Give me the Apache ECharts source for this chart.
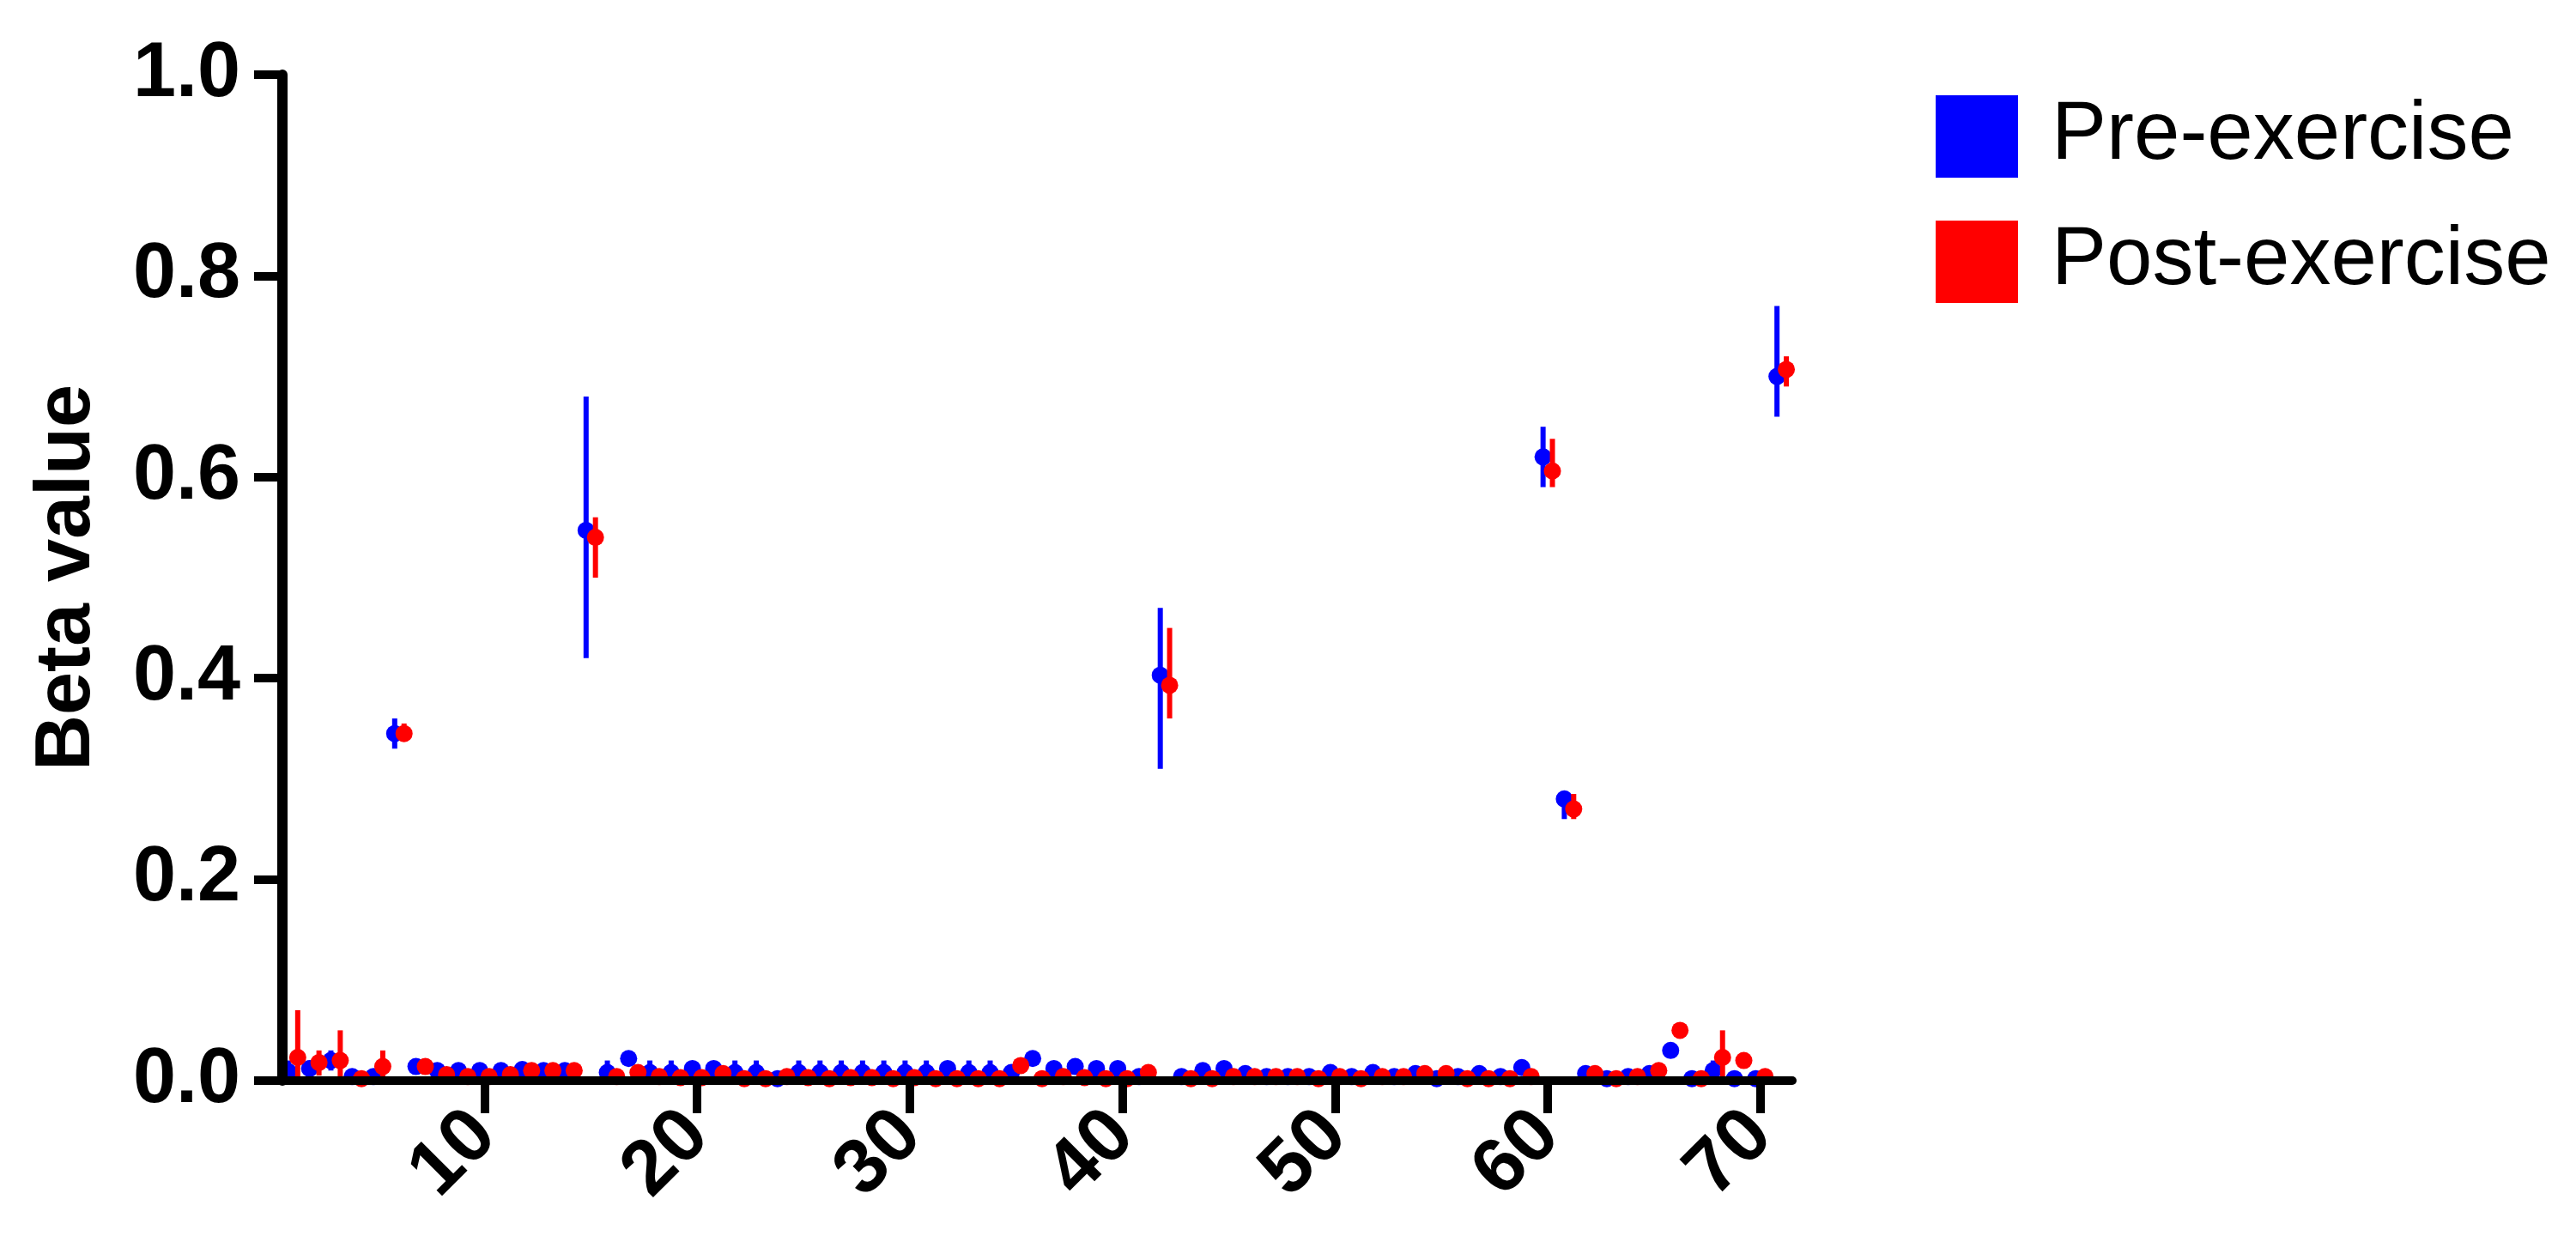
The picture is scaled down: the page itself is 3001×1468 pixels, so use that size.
<!DOCTYPE html>
<html><head><meta charset="utf-8">
<script src="https://cdn.jsdelivr.net/npm/echarts@6/dist/echarts.min.js"></script>
<style>html,body{margin:0;padding:0;background:#fff}#c{width:3001px;height:1468px}</style>
</head><body><div id="c"></div>
<script>
// CpG site index (x positions)
const sites = [1,2,3,4,5,6,7,8,9,10,11,12,13,14,15,16,17,18,19,20,21,22,23,24,25,26,27,28,29,30,31,32,33,34,35,36,37,38,39,40,41,42,43,44,45,46,47,48,49,50,51,52,53,54,55,56,57,58,59,60,61,62,63,64,65,66,67,68,69,70,71];
const xTicks = [10,20,30,40,50,60,70];
const yTicks = [0,0.2,0.4,0.6,0.8,1.0];

const preMean = [0.009,0.012,0.02,0.004,0.004,0.345,0.014,0.01,0.01,0.01,0.01,0.011,0.01,0.01,0.547,0.008,0.022,0.008,0.008,0.012,0.012,0.008,0.008,0.002,0.008,0.008,0.008,0.008,0.008,0.008,0.008,0.012,0.008,0.008,0.008,0.022,0.012,0.014,0.012,0.012,0.004,0.403,0.004,0.01,0.012,0.007,0.004,0.004,0.004,0.008,0.004,0.008,0.004,0.007,0.002,0.004,0.007,0.004,0.013,0.62,0.28,0.007,0.002,0.004,0.007,0.03,0.002,0.01,0.002,0.002,0.70];
const preLow  = [0.0,0.005,0.01,0.004,0.0,0.33,0.01,0.01,0.01,0.01,0.01,0.011,0.01,0.01,0.42,0.0,0.015,0.0,0.0,0.008,0.008,0.0,0.0,0.002,0.0,0.0,0.0,0.0,0.0,0.0,0.0,0.008,0.0,0.0,0.004,0.015,0.009,0.011,0.009,0.009,0.004,0.31,0.004,0.007,0.009,0.007,0.004,0.004,0.004,0.008,0.004,0.008,0.004,0.007,0.002,0.004,0.007,0.004,0.01,0.59,0.26,0.007,0.002,0.004,0.007,0.025,0.002,0.0,0.002,0.002,0.66];
const preHigh = [0.02,0.02,0.03,0.004,0.01,0.36,0.018,0.01,0.01,0.01,0.01,0.011,0.01,0.01,0.68,0.02,0.028,0.02,0.02,0.016,0.016,0.02,0.02,0.002,0.02,0.02,0.02,0.02,0.02,0.02,0.02,0.016,0.02,0.02,0.012,0.028,0.015,0.017,0.015,0.015,0.004,0.47,0.004,0.013,0.015,0.007,0.004,0.004,0.004,0.008,0.004,0.008,0.004,0.007,0.002,0.004,0.007,0.004,0.016,0.65,0.285,0.007,0.002,0.004,0.007,0.035,0.002,0.02,0.002,0.002,0.77];

const postMean = [0.023,0.018,0.02,0.002,0.014,0.345,0.014,0.006,0.004,0.004,0.006,0.01,0.01,0.01,0.54,0.004,0.008,0.004,0.003,0.003,0.007,0.002,0.002,0.004,0.003,0.002,0.003,0.003,0.002,0.003,0.002,0.002,0.002,0.002,0.015,0.002,0.004,0.003,0.002,0.002,0.008,0.393,0.002,0.002,0.004,0.004,0.004,0.004,0.002,0.004,0.002,0.004,0.004,0.007,0.007,0.002,0.002,0.002,0.004,0.606,0.27,0.007,0.002,0.004,0.01,0.05,0.002,0.023,0.02,0.004,0.707];
const postLow  = [0.0,0.005,0.0,0.002,0.0,0.34,0.012,0.006,0.004,0.004,0.006,0.01,0.01,0.01,0.50,0.004,0.008,0.004,0.003,0.003,0.007,0.002,0.002,0.004,0.003,0.002,0.003,0.003,0.002,0.003,0.002,0.002,0.002,0.002,0.01,0.002,0.004,0.003,0.002,0.002,0.008,0.36,0.002,0.002,0.004,0.004,0.004,0.004,0.002,0.004,0.002,0.004,0.004,0.007,0.007,0.002,0.002,0.002,0.004,0.59,0.26,0.007,0.002,0.004,0.01,0.045,0.002,0.0,0.015,0.004,0.69];
const postHigh = [0.07,0.03,0.05,0.002,0.03,0.355,0.016,0.006,0.004,0.004,0.006,0.01,0.01,0.01,0.56,0.004,0.008,0.004,0.003,0.003,0.007,0.002,0.002,0.004,0.003,0.002,0.003,0.003,0.002,0.003,0.002,0.002,0.002,0.002,0.02,0.002,0.004,0.003,0.002,0.002,0.008,0.45,0.002,0.002,0.004,0.004,0.004,0.004,0.002,0.004,0.002,0.004,0.004,0.007,0.007,0.002,0.002,0.002,0.004,0.638,0.285,0.007,0.002,0.004,0.01,0.055,0.002,0.05,0.025,0.004,0.72];

const BLUE = '#0000FF', RED = '#FF0000';
const OFF = 0.22;
const FONT = '"Liberation Sans", Arial, sans-serif';

function pts(mean, dx){ return sites.map((s,i)=>[s+dx, mean[i]]); }
function bars(lo, hi, dx){ return sites.map((s,i)=>[s+dx, lo[i], hi[i]]); }
function errRender(params, api){
  const x = api.value(0);
  const p1 = api.coord([x, api.value(1)]);
  const p2 = api.coord([x, api.value(2)]);
  return {type:'line', shape:{x1:p1[0],y1:p1[1],x2:p2[0],y2:p2[1]},
          style:{stroke: api.visual('color'), lineWidth:6}};
}

const chart = echarts.init(document.getElementById('c'), null, {renderer:'canvas'});
chart.setOption({
  animation:false,
  backgroundColor:'#fff',
  grid:{left:329, right:913, top:87, bottom:209, containLabel:false},
  legend:{
    data:[{name:'Pre-exercise',icon:'rect'},{name:'Post-exercise',icon:'rect'}],
    orient:'vertical', left:2250, top:106, itemWidth:96, itemHeight:96, itemGap:50,
    textStyle:{fontSize:96, color:'#000', fontFamily:FONT, lineHeight:96, padding:[0,0,0,34]},
    selectedMode:false
  },
  xAxis:{
    type:'value', min:0.5, max:71.5, z:10,
    axisLine:{lineStyle:{color:'#000', width:10}},
    axisTick:{show:true, length:38, lineStyle:{color:'#000', width:10}, customValues:xTicks},
    axisLabel:{show:true, rotate:45, fontSize:90, fontWeight:'bold', color:'#000', fontFamily:FONT, margin:50, customValues:xTicks},
    splitLine:{show:false}
  },
  yAxis:{
    type:'value', min:0, max:1, interval:0.2, z:10,
    name:'Beta value', nameLocation:'middle', nameRotate:90, nameGap:205,
    nameTextStyle:{fontSize:90, fontWeight:'bold', color:'#000', fontFamily:FONT},
    axisLine:{show:true, lineStyle:{color:'#000', width:12}},
    axisTick:{show:true, length:33, lineStyle:{color:'#000', width:10}},
    axisLabel:{fontSize:90, fontWeight:'bold', color:'#000', fontFamily:FONT, margin:49,
               formatter:v=>v.toFixed(1), customValues:yTicks},
    splitLine:{show:false}
  },
  series:[
    {type:'custom', name:'preErr', renderItem:errRender, itemStyle:{color:BLUE}, data:bars(preLow,preHigh,-OFF), z:2},
    {type:'scatter', name:'Pre-exercise', symbol:'circle', symbolSize:20, itemStyle:{color:BLUE, opacity:1}, data:pts(preMean,-OFF), z:3},
    {type:'custom', name:'postErr', renderItem:errRender, itemStyle:{color:RED}, data:bars(postLow,postHigh,OFF), z:4},
    {type:'scatter', name:'Post-exercise', symbol:'circle', symbolSize:20, itemStyle:{color:RED, opacity:1}, data:pts(postMean,OFF), z:5}
  ]
});
</script></body></html>
